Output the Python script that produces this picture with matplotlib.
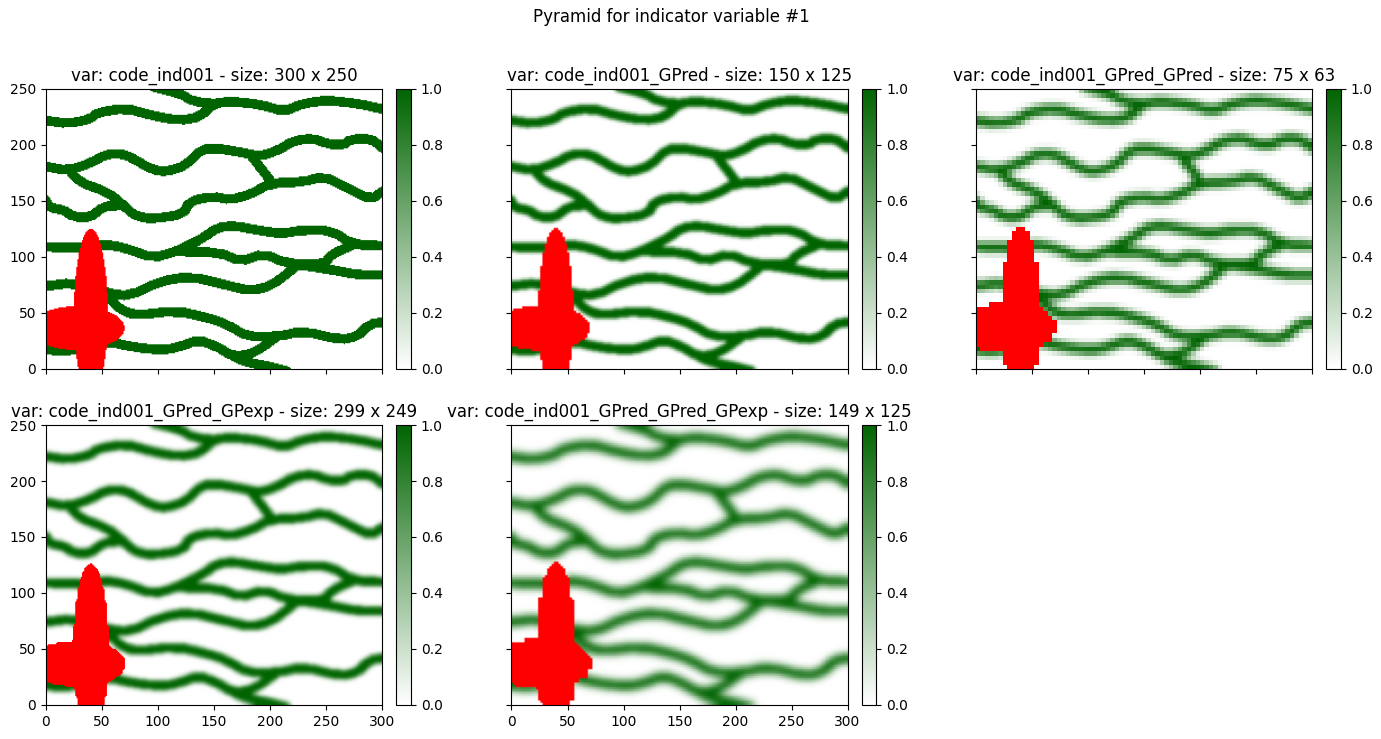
import matplotlib
matplotlib.use("Agg")
import matplotlib.pyplot as plt
from matplotlib.colors import LinearSegmentedColormap
import numpy as np

# channel centre lines (x, y) of the indicator variable
chan_a = [(0, 222), (19, 219), (39, 223), (46, 229), (71, 233), (95, 226), (119, 222), (137, 225), (149, 237),
          (165, 239), (191, 236), (212, 230), (229, 237), (250, 240), (277, 237), (300, 232)]
chan_b = [(95, 252), (119, 246), (131, 239), (149, 237)]
chan_c = [(0, 181), (19, 177), (40, 184), (54, 192), (70, 192), (84, 184), (95, 178), (107, 176), (125, 182),
          (138, 196), (153, 197), (170, 194), (191, 190), (206, 195), (221, 204), (238, 206), (250, 201),
          (265, 200), (271, 205), (289, 206), (300, 197)]
chan_d = [(22, 176), (30, 167), (54, 158), (65, 150), (74, 141), (82, 136), (95, 134), (122, 138), (128, 150),
          (149, 154), (164, 151), (182, 156), (200, 166), (229, 167), (247, 172), (268, 162), (289, 151), (300, 159)]
chan_e = [(183, 190), (200, 168)]
chan_f = [(0, 151), (3, 144), (16, 142), (24, 136), (39, 135), (51, 145), (66, 146)]
chan_g = [(0, 109), (24, 108), (54, 111), (71, 108), (95, 99), (116, 105), (140, 117), (152, 126), (167, 128),
          (188, 124), (209, 121), (229, 124), (253, 124), (274, 111), (300, 110)]
chan_h = [(116, 105), (155, 104), (173, 96), (194, 103), (215, 94), (247, 93), (255, 103), (274, 111)]
chan_i = [(217, 94), (253, 89), (277, 84), (300, 84)]
chan_j = [(0, 74), (24, 77), (55, 68), (74, 65), (101, 78), (128, 83), (164, 74), (182, 70), (200, 74),
          (217, 87), (224, 93)]
chan_k = [(55, 65), (66, 53), (80, 48), (116, 52), (143, 46), (161, 40), (179, 29), (206, 29), (229, 34),
          (262, 26), (277, 29), (288, 40), (300, 42)]
chan_l = [(0, 17), (24, 16), (54, 25), (80, 19), (104, 17), (116, 19), (136, 26), (152, 20), (167, 11),
          (185, 14), (206, 29)]
chan_m = [(167, 11), (179, 6), (200, 2), (215, -2)]
channels = [chan_a, chan_b, chan_c, chan_d, chan_e, chan_f, chan_g, chan_h, chan_i, chan_j, chan_k, chan_l, chan_m]
half_width = 4.3

# masked zone: two ellipses (cx, cy, rx, ry)
mask_ellipses = [(40, 50, 15, 75), (27.5, 36.5, 42.5, 19.5)]

names = ["code_ind001", "code_ind001_GPred", "code_ind001_GPred_GPred",
         "code_ind001_GPred_GPexp", "code_ind001_GPred_GPred_GPexp"]
sizes = [(300, 250), (150, 125), (75, 63), (299, 249), (149, 125)]
xticks = [0, 50, 100, 150, 200, 250, 300]
yticks = [0, 50, 100, 150, 200, 250]
W, H = 1381, 739
SX, SY = 300.0, 250.0


def centers(n, s):
    return (np.arange(n) + 0.5) * s / n


def round_corners(p):
    # one pass of corner cutting so the channels bend a little softer
    q = 0.75 * p[:-1] + 0.25 * p[1:]
    r = 0.25 * p[:-1] + 0.75 * p[1:]
    mid = np.empty((2 * len(q), 2))
    mid[0::2], mid[1::2] = q, r
    return np.vstack([p[:1], mid, p[-1:]])


def rasterize(nx, ny):
    xx, yy = np.meshgrid(centers(nx, SX), centers(ny, SY))
    dist = np.full(xx.shape, np.inf)
    for chan in channels:
        p = round_corners(np.array(chan, dtype=float))
        for a, b in zip(p[:-1], p[1:]):
            d = b - a
            t = np.clip(((xx - a[0]) * d[0] + (yy - a[1]) * d[1]) / (d @ d), 0, 1)
            dist = np.minimum(dist, np.hypot(xx - a[0] - t * d[0], yy - a[1] - t * d[1]))
    val = (dist <= half_width).astype(float)
    mask = np.zeros(xx.shape, dtype=bool)
    for cx, cy, rx, ry in mask_ellipses:
        mask |= ((xx - cx) / rx) ** 2 + ((yy - cy) / ry) ** 2 <= 1
    return val, mask


def weights(n_out, n_in, s, sigma):
    d = centers(n_out, s)[:, None] - centers(n_in, s)[None, :]
    w = np.exp(-0.5 * (d / sigma) ** 2)
    return w / w.sum(axis=1, keepdims=True)


def resample(val, mask, size, sigma, thresh):
    # gaussian filter that ignores masked cells, then mask the cells covered enough
    wx = weights(size[0], val.shape[1], SX, sigma)
    wy = weights(size[1], val.shape[0], SY, sigma)
    good = (~mask).astype(float)
    num = wy @ (val * good) @ wx.T
    den = wy @ good @ wx.T
    frac = wy @ mask.astype(float) @ wx.T
    return num / np.maximum(den, 1e-9), frac > thresh


lev0 = rasterize(*sizes[0])
lev1 = resample(lev0[0], lev0[1], sizes[1], 1.4, 0.35)
lev2 = resample(lev1[0], lev1[1], sizes[2], 2.2, 0.2)
lev3 = resample(lev1[0], lev1[1], sizes[3], 1.3, 0.38)
lev4 = resample(lev2[0], lev2[1], sizes[4], 2.0, 0.45)
levels = [lev0, lev1, lev2, lev3, lev4]

cmap = LinearSegmentedColormap.from_list("ind", ["white", "darkgreen"]).copy()
cmap.set_bad("red")

fig = plt.figure(figsize=(W / 100, H / 100), dpi=100)
fig.suptitle("Pyramid for indicator variable #1", x=671 / W, y=1 - 17 / H, va="center", fontsize=12)

lefts = [46, 511.5, 976]
tops = [89, 425]
for i, (name, size, lev) in enumerate(zip(names, sizes, levels)):
    row, col = i // 3, i % 3
    ax = fig.add_axes([lefts[col] / W, 1 - (tops[row] + 280) / H, 336 / W, 280 / H])
    cax = fig.add_axes([(lefts[col] + 350) / W, 1 - (tops[row] + 280) / H, 15 / W, 280 / H])
    im = ax.imshow(np.ma.array(lev[0], mask=lev[1]), origin="lower", extent=[0, SX, 0, SY],
                   cmap=cmap, vmin=0, vmax=1, aspect="auto")
    ax.set_title(f"var: {name} - size: {size[0]} x {size[1]}")
    ax.set_xticks(xticks)
    ax.set_yticks(yticks)
    ax.tick_params(labelbottom=row == 1, labelleft=col == 0)
    fig.colorbar(im, cax=cax)

fig.savefig("out.png", dpi=100)
